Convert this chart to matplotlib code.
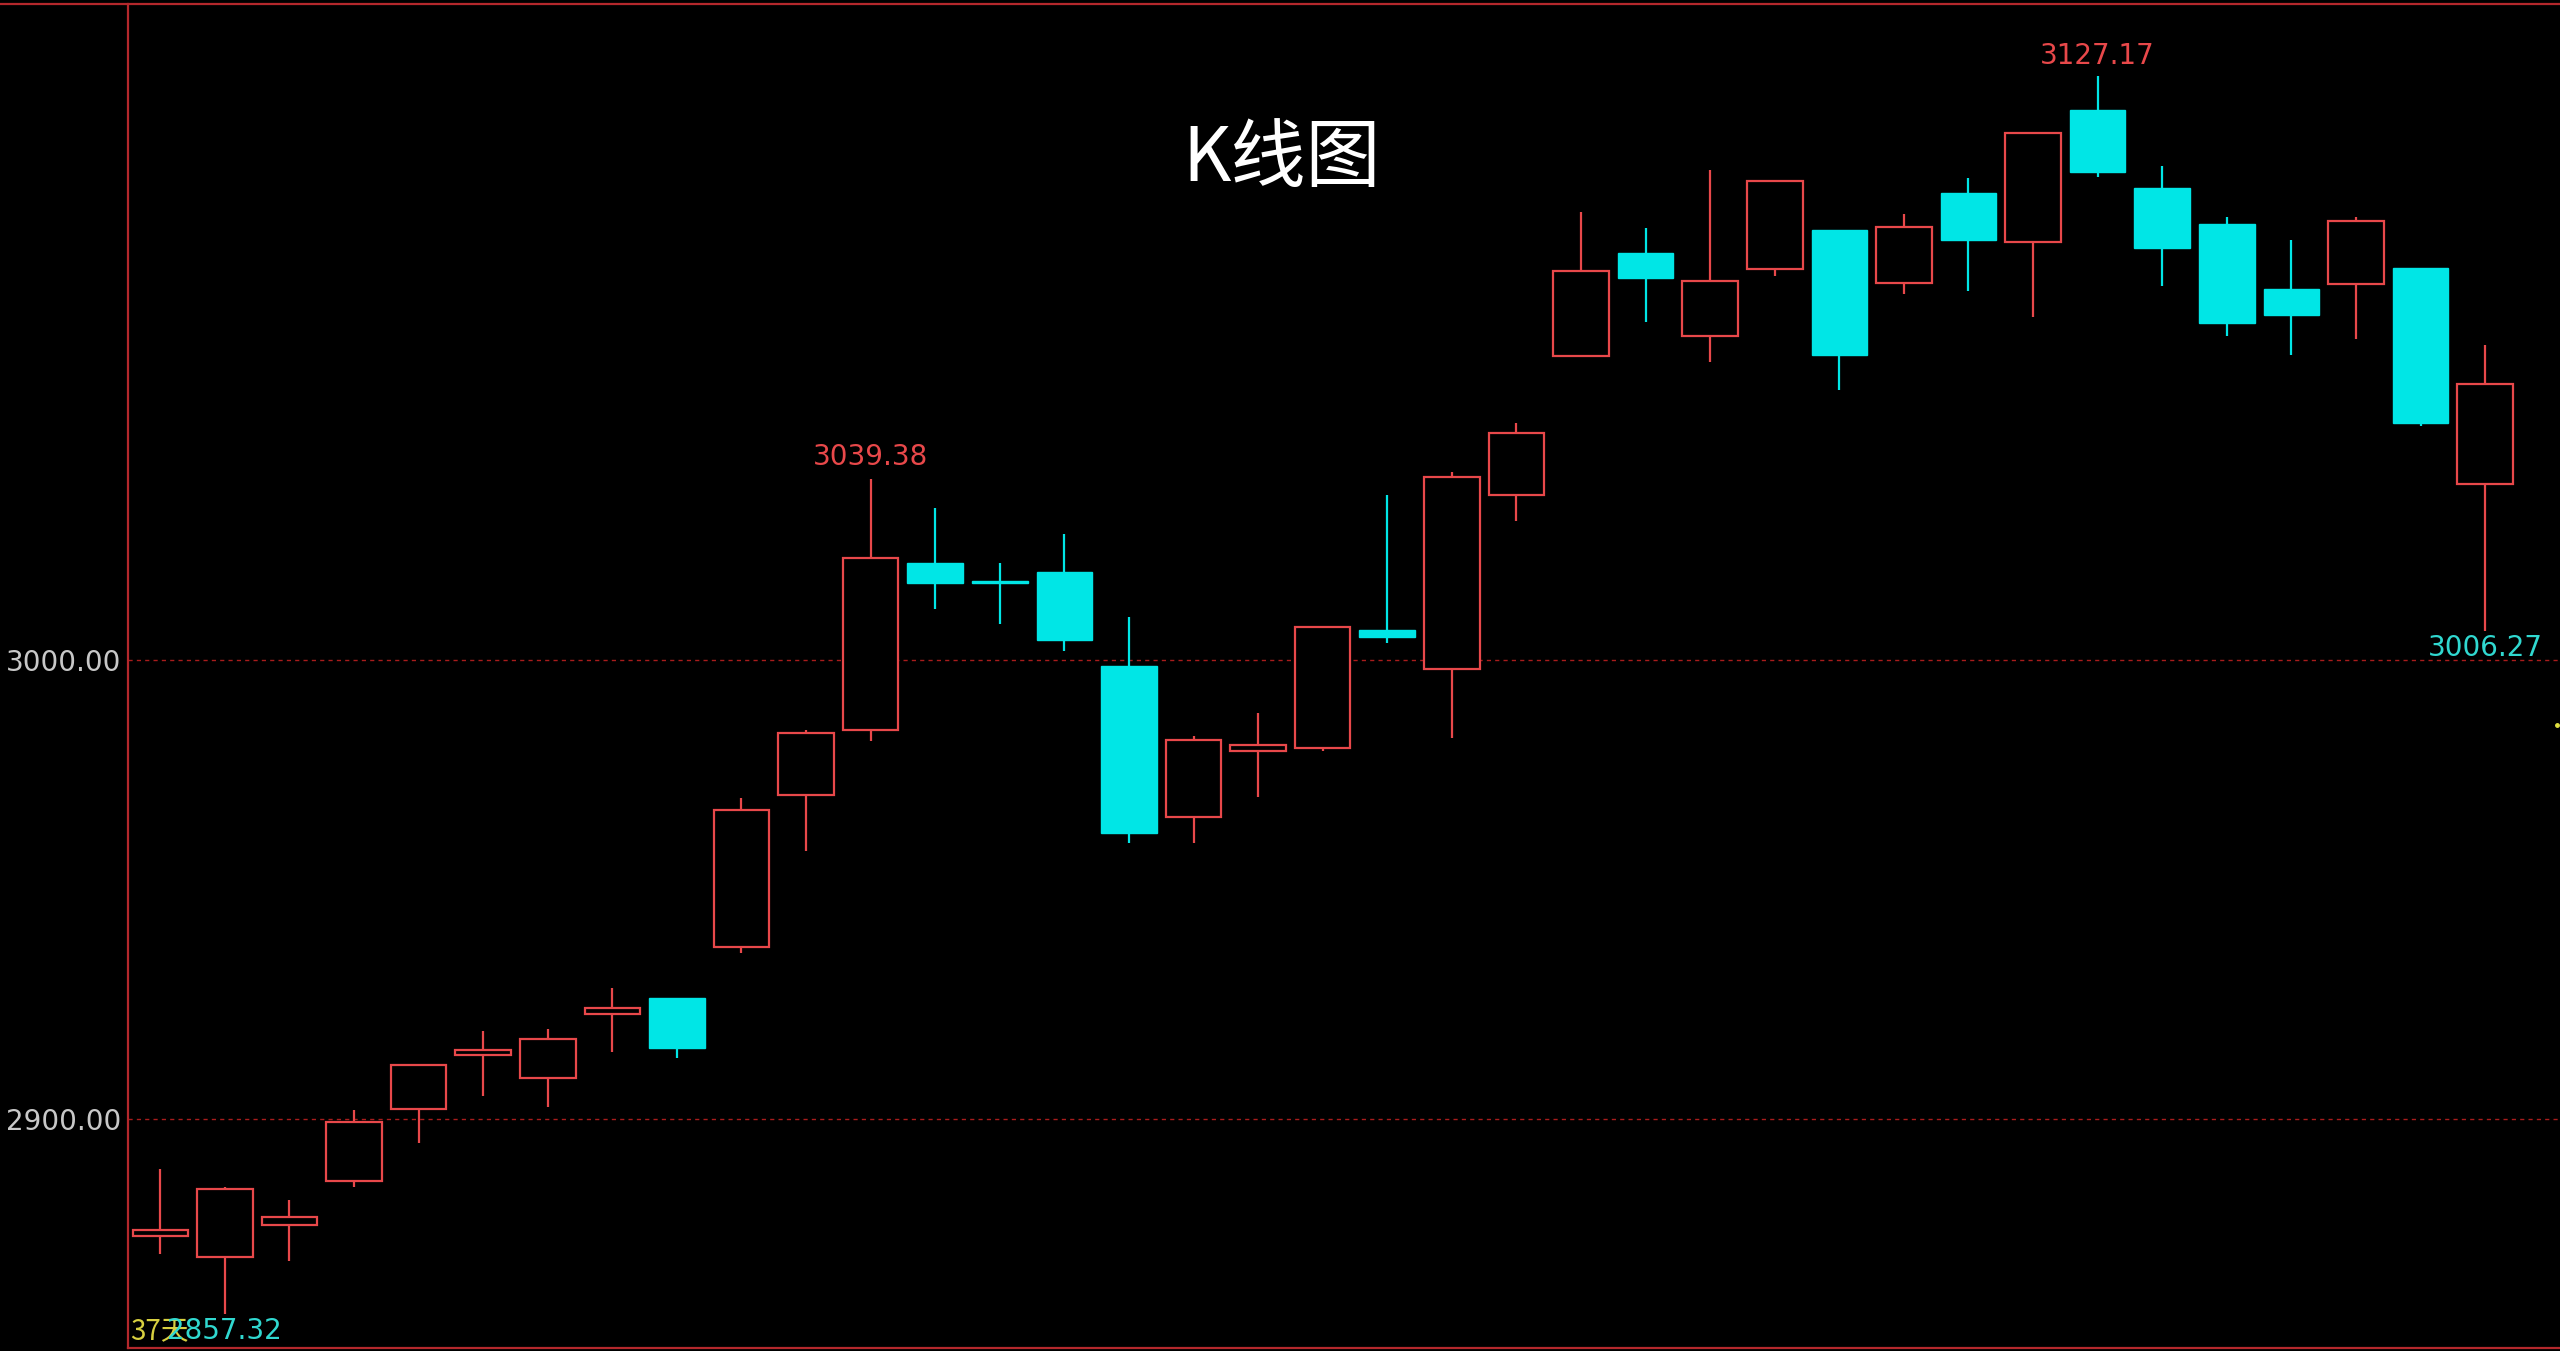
import numpy as np
import matplotlib
matplotlib.use("Agg")
import matplotlib.pyplot as plt
from matplotlib.lines import Line2D

# 日K数据
opens = [2874.4, 2869.8, 2876.9, 2886.5, 2902.1, 2913.9, 2908.9, 2922.8, 2926.3, 2937.4,
         2970.5, 2984.7, 3021.0, 3017.1, 3019.2, 2998.6, 2965.8, 2980.1, 2980.8, 3006.4,
         2997.9, 3035.9, 3066.2, 3088.6, 3070.5, 3085.1, 3093.6, 3082.2, 3101.8, 3091.1,
         3119.9, 3102.8, 3095.0, 3080.8, 3081.9, 3085.4, 3038.4]
highs = [2889.0, 2885.0, 2882.2, 2901.8, 2912.0, 2919.2, 2919.6, 2928.5, 2926.3, 2969.8,
         2984.7, 3039.38, 3033.1, 3021.0, 3027.4, 3009.3, 2983.3, 2988.3, 3007.1, 3035.9,
         3040.9, 3051.6, 3097.5, 3094.0, 3106.8, 3104.6, 3093.6, 3097.2, 3105.0, 3114.9,
         3127.17, 3107.5, 3096.4, 3091.5, 3096.4, 3085.4, 3068.7]
lows = [2870.5, 2857.32, 2869.0, 2885.0, 2894.7, 2905.0, 2902.5, 2914.6, 2913.2, 2936.0,
        2958.4, 2982.2, 3011.0, 3007.8, 3001.8, 2960.1, 2960.1, 2970.1, 2980.1, 3003.6,
        2982.9, 3030.2, 3066.2, 3073.7, 3064.8, 3083.6, 3058.7, 3079.7, 3080.4, 3074.7,
        3105.3, 3081.5, 3070.5, 3066.5, 3069.8, 3050.9, 3006.27]
closes = [2875.8, 2884.7, 2878.6, 2899.3, 2911.7, 2914.9, 2917.4, 2924.2, 2915.3, 2967.3,
          2984.0, 3022.1, 3016.7, 3016.7, 3004.3, 2962.3, 2982.6, 2981.5, 3007.1, 3005.0,
          3039.9, 3049.5, 3084.7, 3083.3, 3082.6, 3104.3, 3066.5, 3094.3, 3091.5, 3114.9,
          3106.4, 3089.7, 3073.3, 3075.1, 3095.7, 3051.6, 3060.1]
grid_levels = [2900, 3000]

up_col = '#e8484a'
down_col = '#00e6e6'
frame_col = '#b4282c'
lbl_size = 20

fig = plt.figure(figsize=(25.6, 13.51), dpi=100, facecolor='black')
ax = fig.add_axes([0.05, 0.0022, 0.95, 0.9948], facecolor='black')

x = np.arange(len(opens))
o = np.array(opens); h = np.array(highs); l = np.array(lows); c = np.array(closes)
up = c >= o
w = 0.86

# 阳线: 空心红框, 影线不穿过实体
top = np.maximum(o, c); bot = np.minimum(o, c)
ax.vlines(x[up], top[up], h[up], color=up_col, lw=1.6, zorder=2)
ax.vlines(x[up], l[up], bot[up], color=up_col, lw=1.6, zorder=2)
ax.bar(x[up], (c - o)[up], bottom=o[up], width=w, facecolor='black',
       edgecolor=up_col, linewidth=1.6, zorder=3)

# 阴线: 实心青色
ax.vlines(x[~up], l[~up], h[~up], color=down_col, lw=1.6, zorder=2)
hh = np.maximum((o - c)[~up], 0.5)
ax.bar(x[~up], hh, bottom=c[~up], width=w, color=down_col, edgecolor=down_col,
       linewidth=1.0, zorder=3)

for lv in grid_levels:
    ax.axhline(lv, color='#a81c1c', lw=1.0, linestyle=(0, (3, 3)), zorder=1)

ax.set_xlim(-0.5, 37.16)
ax.set_ylim(2850.0, 3142.9)
ax.set_xticks([])
ax.set_yticks(grid_levels)
ax.set_yticklabels(['%.2f' % v for v in grid_levels])
ax.tick_params(axis='y', length=0, pad=5, labelsize=lbl_size, labelcolor='#c8c8c8')

for s in ['left', 'bottom']:
    ax.spines[s].set_color(frame_col)
    ax.spines[s].set_linewidth(1.6)
ax.spines['top'].set_visible(False)
ax.spines['right'].set_visible(False)
fig.add_artist(Line2D([0, 1], [0.997, 0.997], color=frame_col, lw=1.6))

# 最高/最低价标注
imax = int(np.argmax(h)); imin = int(np.argmin(l))
ax.text(imax, h[imax] + 4.5, '%.2f' % h[imax], color=up_col, fontsize=lbl_size,
        ha='center', va='center')
ax.text(11, h[11] + 4.7, '%.2f' % h[11], color=up_col, fontsize=lbl_size,
        ha='center', va='center')
ax.text(36, l[36] - 3.7, '%.2f' % l[36], color='#30d8d0', fontsize=lbl_size,
        ha='center', va='center')
ax.text(imin, l[imin] - 3.6, '%.2f' % l[imin], color='#30d8d0', fontsize=lbl_size,
        ha='center', va='center', zorder=5)
ax.text(-0.47, 2853.7, '37天', color='#d8d040', fontsize=lbl_size, ha='left', va='center',
        family=['Noto Sans CJK SC', 'DejaVu Sans'], zorder=4)
ax.plot([37.12], [2985.7], marker='o', ms=2.5, color='#e0e040', clip_on=False)

fig.text(0.5008, 0.8816, 'K线图', color='white', fontsize=54, ha='center', va='center',
         family=['Noto Sans CJK SC', 'DejaVu Sans'])

fig.savefig('out.png', dpi=100, facecolor='black')
